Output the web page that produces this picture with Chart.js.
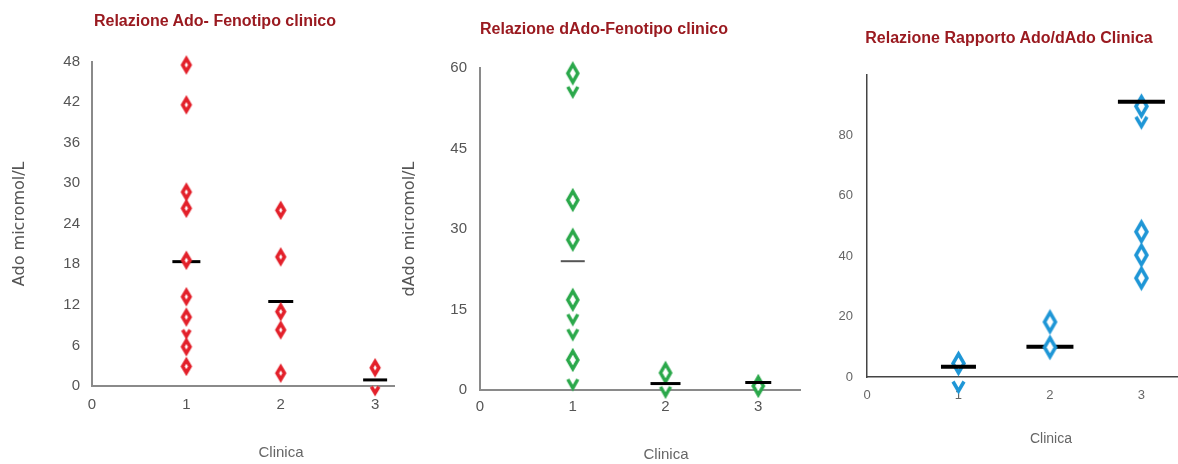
<!DOCTYPE html>
<html lang="it">
<head>
<meta charset="UTF-8">
<title>Relazione Ado / dAdo - Fenotipo clinico</title>
<script src="https://cdn.jsdelivr.net/npm/chart.js@4.4.1/dist/chart.umd.min.js"></script>
<style>
  body { margin: 0; background: #fff; width: 1178px; height: 464px; position: relative; overflow: hidden;
         font-family: 'Liberation Sans Narrow', 'Liberation Sans', sans-serif; }
  canvas { position: absolute; top: 0; }
  .titolo { position: absolute; font-size: 16px; font-weight: bold; line-height: 1; color: #9a1a20;
            transform: translateX(-50%); white-space: nowrap; }
  .clinica { position: absolute; font-size: 15px; line-height: 1; color: #666;
             transform: translateX(-50%); white-space: nowrap; }
</style>
</head>
<body>
<canvas id="chartAdo" width="430" height="464" style="left:0"></canvas>
<canvas id="chartDado" width="408" height="464" style="left:400px"></canvas>
<canvas id="chartRapporto" width="348" height="464" style="left:830px"></canvas>

<div class="titolo" style="left:215px; top:13px">Relazione Ado- Fenotipo clinico</div>
<div class="titolo" style="left:604px; top:21px">Relazione dAdo-Fenotipo clinico</div>
<div class="titolo" style="left:1009px; top:30px">Relazione Rapporto Ado/dAdo Clinica</div>

<div class="clinica" style="left:281px; top:444px">Clinica</div>
<div class="clinica" style="left:666px; top:446px">Clinica</div>
<div class="clinica" style="left:1051px; top:431px; font-size:14px">Clinica</div>

<script>
// categorie cliniche (asse x)
const categorie = [1, 2, 3];
const xTicks = [0, 1, 2, 3];

// Ado (micromol/L) per gruppo clinico
const adoValori = [
  [2.9, 5.8, 10.2, 13.2, 18.6, 26.3, 28.7, 41.6, 47.5],
  [1.9, 8.3, 11, 19.1, 26],
  [2.7]
];
const adoSovrapposti = [[8.3], [], [-0.1]];   // punti coperti in parte
const adoMedia = [18.4, 12.5, 0.9];
const adoTicks = [0, 6, 12, 18, 24, 30, 36, 42, 48];

// dAdo (micromol/L)
const dadoValori = [
  [5.6, 16.8, 28, 35.4, 59],
  [3.2],
  [0.75]
];
const dadoSovrapposti = [[2.0, 11.3, 14.1, 56.5], [0.6], []];
const dadoMedia = [24, 1.2, 1.4];
const dadoTicks = [0, 15, 30, 45, 60];

// rapporto Ado/dAdo
const rapportoValori = [
  [4.5],
  [9.8, 18.2],
  [32.7, 40.3, 48, 89.5]
];
const rapportoSovrapposti = [[-1.5], [], [86]];
const rapportoMedia = [3.4, 10, 91];
const rapportoTicks = [0, 20, 40, 60, 80];

const NARROW = "'Liberation Sans Narrow', 'Liberation Sans', sans-serif";

// rombo vuoto (o solo la meta' inferiore) come immagine per pointStyle
function rombo(colore, w, h, lw, soloMeta) {
  const c = document.createElement('canvas');
  c.width = Math.round(w + lw * 4);
  c.height = Math.round(h + lw * 4);
  const g = c.getContext('2d');
  const cx = c.width / 2, cy = c.height / 2;
  g.lineWidth = lw;
  g.strokeStyle = colore;
  g.fillStyle = '#fff';
  g.beginPath();
  if (soloMeta) {
    g.moveTo(cx - w / 2, cy);
    g.lineTo(cx, cy + h / 2);
    g.lineTo(cx + w / 2, cy);
  } else {
    g.moveTo(cx, cy - h / 2);
    g.lineTo(cx + w / 2, cy);
    g.lineTo(cx, cy + h / 2);
    g.lineTo(cx - w / 2, cy);
    g.closePath();
  }
  g.fill();
  g.stroke();
  return c;
}

function punti(gruppi) {
  return gruppi.flatMap((g, i) => g.map(v => ({ x: categorie[i], y: v })));
}
// solo le medie indicate (le altre vuote) -> serve per disegnarle sopra o sotto i rombi
function medie(arr, quali) {
  return arr.map((v, i) => ({ x: categorie[i], y: (!quali || quali.includes(i)) ? v : null }));
}

function serieRombi(gruppi, img) {
  return { data: punti(gruppi), pointStyle: img, pointRadius: 6, pointHoverRadius: 6, clip: false };
}
function serieMedia(arr, raggi, spessori, colori, quali) {
  return {
    data: medie(arr, quali), pointStyle: 'line', pointRadius: raggi, pointHoverRadius: raggi,
    pointBorderWidth: spessori, pointHoverBorderWidth: spessori,
    pointBorderColor: colori, pointHoverBorderColor: colori, clip: false
  };
}

function grafico(id, cfg) {
  return new Chart(document.getElementById(id), {
    type: 'scatter',
    data: { datasets: cfg.datasets },
    options: {
      responsive: false,
      animation: false,
      events: [],
      layout: { autoPadding: false, padding: { left: 0, right: cfg.padDestra, top: cfg.padSopra, bottom: 0 } },
      plugins: {
        legend: { display: false },
        tooltip: { enabled: false },
        title: { display: false }
      },
      scales: {
        x: {
          type: 'linear', min: 0, max: cfg.xMax,
          grid: { display: false, drawTicks: false },
          border: { color: cfg.asse, width: cfg.asseW },
          ticks: { font: { family: NARROW, size: cfg.tickSize }, color: cfg.tickCol, padding: cfg.padTickX },
          afterBuildTicks: s => { s.ticks = xTicks.map(v => ({ value: v })); },
          afterFit: s => { s.height = cfg.altezzaX; }
        },
        y: {
          type: 'linear', min: 0, max: cfg.yMax,
          grid: { display: false, drawTicks: false },
          border: { color: cfg.asse, width: cfg.asseW },
          ticks: { font: { family: NARROW, size: cfg.tickSize }, color: cfg.tickCol, padding: cfg.padTickY },
          title: cfg.titoloY ? {
            display: true, text: cfg.titoloY, color: '#555',
            font: { family: "'DejaVu Sans', sans-serif", size: 16, lineHeight: 1.25 },
            padding: { top: cfg.padTitoloY, bottom: 0 }
          } : { display: false },
          afterBuildTicks: s => { s.ticks = cfg.yTicks.map(v => ({ value: v })); },
          afterFit: s => { s.width = cfg.larghezzaY; }
        }
      }
    }
  });
}

const rosso = '#e3202a', verde = '#2aa84a', blu = '#1e96d6';

// il primo dataset viene disegnato sopra gli altri
grafico('chartAdo', {
  padSopra: 61.6, padDestra: 36, larghezzaY: 92, altezzaX: 78,
  xMax: 3.2, yMax: 48, yTicks: adoTicks,
  asse: '#8a8a8a', asseW: 2, tickSize: 15, tickCol: '#555', padTickX: 10, padTickY: 12,
  titoloY: 'Ado micromol/L', padTitoloY: 10,
  datasets: [
    serieRombi(adoValori, rombo(rosso, 7.5, 12.5, 3.5, false)),
    serieRombi(adoSovrapposti, rombo(rosso, 7.5, 12.5, 3.5, true)),
    serieMedia(adoMedia, [14, 12.5, 12], 3, '#000')
  ]
});

grafico('chartDado', {
  padSopra: 68, padDestra: 8, larghezzaY: 80, altezzaX: 74,
  xMax: 3.45, yMax: 60, yTicks: dadoTicks,
  asse: '#8a8a8a', asseW: 2, tickSize: 15, tickCol: '#555', padTickX: 8, padTickY: 13,
  titoloY: 'dAdo micromol/L', padTitoloY: 0,
  datasets: [
    serieMedia(dadoMedia, [12, 15, 13], [2, 3, 3], ['#555', '#000', '#000']),
    serieRombi(dadoValori, rombo(verde, 10, 17.5, 3.5, false)),
    serieRombi(dadoSovrapposti, rombo(verde, 10, 17.5, 3.5, true))
  ]
});

grafico('chartRapporto', {
  padSopra: 74.5, padDestra: 0, larghezzaY: 37, altezzaX: 87,
  xMax: 3.4, yMax: 100, yTicks: rapportoTicks,
  asse: '#444', asseW: 1.5, tickSize: 13, tickCol: '#666', padTickX: 11, padTickY: 14,
  titoloY: null,
  datasets: [
    serieMedia(rapportoMedia, [17.5, 23.5, 23.5], 4, '#000', [0, 2]),
    serieRombi(rapportoValori, rombo(blu, 11, 19, 3.5, false)),
    serieRombi(rapportoSovrapposti, rombo(blu, 11, 19, 3.5, true)),
    serieMedia(rapportoMedia, [17.5, 23.5, 23.5], 4, '#000', [1])
  ]
});
</script>
</body>
</html>
